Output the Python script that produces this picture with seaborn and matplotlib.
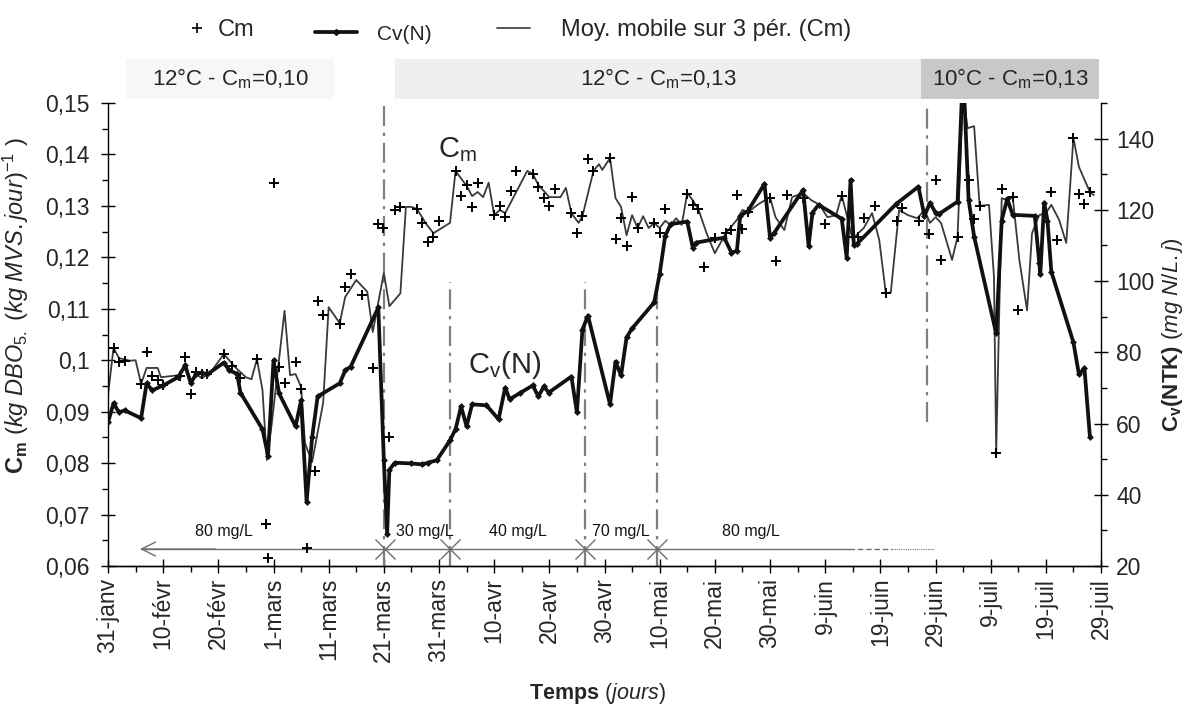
import numpy as np
import pandas as pd
import matplotlib
matplotlib.use("Agg")
import matplotlib.pyplot as plt
import seaborn as sns
from matplotlib.ticker import MultipleLocator, FixedLocator
from matplotlib.lines import Line2D
from matplotlib.patches import Rectangle

sns.set_style("ticks")
plt.rcParams['font.family'] = ['Liberation Sans', 'DejaVu Sans']
plt.rcParams['mathtext.fontset'] = 'custom'
plt.rcParams['mathtext.rm'] = 'Liberation Sans'
plt.rcParams['mathtext.it'] = 'Liberation Sans:italic'
plt.rcParams['mathtext.bf'] = 'Liberation Sans:bold'

# ---------------- data (day 0 = 31 janv) ----------------
x_tick_labels = ["31-janv", "10-févr", "20-févr", "1-mars", "11-mars", "21-mars", "31-mars",
                 "10-avr", "20-avr", "30-avr", "10-mai", "20-mai", "30-mai", "9-juin",
                 "19-juin", "29-juin", "9-juil", "19-juil", "29-juil"]

cm_day = [1, 2, 3, 6, 7, 8, 9, 10, 13, 14, 15, 16, 17, 18, 21, 22.5, 24, 27, 28.6, 29,
          30, 31, 32, 34, 35, 36, 37.5, 38, 39, 42, 43, 44, 46, 48, 48.9, 49.8, 51,
          52, 53, 56, 57, 58, 59, 60, 63, 64, 65, 66, 67, 70, 71, 72, 73, 74, 77, 78,
          79, 80, 81, 84, 85, 86, 87, 88, 91, 92, 93, 94, 95, 96, 99, 100, 101, 105,
          106, 107, 108, 110, 112, 113, 114, 115, 116, 120, 121, 123, 126, 130, 133,
          135, 136, 137, 139, 141, 143, 144, 147, 148.8, 150, 151, 154, 156, 157, 158,
          161, 162, 164, 165, 171, 172, 175, 176, 177, 178]
cm_val = [0.1024, 0.0997, 0.0999, 0.0954, 0.1016, 0.0969, 0.0962, 0.0952, 0.0969, 0.1006,
          0.0934, 0.0977, 0.0973, 0.0973, 0.1012, 0.0989, 0.0965, 0.1002, 0.0682, 0.0616,
          0.1345, 0.0987, 0.0956, 0.0997, 0.0944, 0.0635, 0.0785, 0.1115, 0.1088, 0.1070,
          0.1142, 0.1167, 0.1127, 0.0985, 0.1265, 0.1257, 0.0850,
          0.1292, 0.1298, 0.1294, 0.1267, 0.1230, 0.1240, 0.1271, 0.1368, 0.1319, 0.1341,
          0.1298, 0.1345, 0.1282, 0.1300, 0.1278, 0.1329, 0.1368, 0.1362, 0.1337,
          0.1315, 0.1300, 0.1333, 0.1286, 0.1247, 0.1280, 0.1391, 0.1368, 0.1393, 0.1236,
          0.1276, 0.1222, 0.1317, 0.1257, 0.1267, 0.1247, 0.1294, 0.1323,
          0.1302, 0.1294, 0.1181, 0.1238, 0.1247, 0.1253, 0.1321, 0.1255, 0.1288, 0.1315,
          0.1193, 0.1321, 0.1315, 0.1265, 0.1319,
          0.1240, 0.1240, 0.1276, 0.1300, 0.1130, 0.1271, 0.1296, 0.1271, 0.1245, 0.1351,
          0.1195, 0.1240, 0.1351, 0.1274, 0.1300,
          0.0820, 0.1333, 0.1317, 0.1097, 0.1327, 0.1234, 0.1432, 0.1323, 0.1304, 0.1327]

ma_day = [0, 1, 2, 4, 5, 6, 7, 9, 9.6, 13, 14, 15, 16, 17, 18.5, 21, 23, 25, 26, 27, 28,
          28.8, 29.7, 32, 33, 34, 35, 35.7, 37, 39, 40, 42, 43, 45, 47, 48, 50, 51, 53,
          54, 55, 56, 57.8, 59, 62, 63, 65, 66, 67, 68, 69, 70, 71, 72, 76, 77, 78, 80,
          82, 83, 84, 85.3, 86, 88, 89, 89.6, 91, 92, 93, 94, 95, 96, 97, 98, 99, 100,
          101, 102, 103, 104, 105, 106, 107, 108.5, 110, 112, 114, 115, 116, 118, 120,
          121, 122.6, 124, 126, 127.5, 129, 130.4, 132, 133, 134, 135, 136, 137, 138.5,
          139.8, 141, 141.9, 143.4, 145, 146.7, 148, 149, 150, 151, 153, 154, 155,
          155.8, 157, 158, 159.7, 160.6, 161, 162, 163, 164, 165.2, 166.6, 167.5, 168.8,
          170, 171, 172.4, 173.7, 175, 176, 177, 178, 178.7]
ma_val = [0.0932, 0.1024, 0.1004, 0.0999, 0.1000, 0.0954, 0.0985, 0.0985, 0.0967, 0.0971,
          0.0994, 0.0958, 0.0973, 0.0965, 0.0975, 0.1012, 0.0987, 0.0967, 0.0963, 0.1002,
          0.0942, 0.0806, 0.0878, 0.1096, 0.0971, 0.0973, 0.0948, 0.0839, 0.0802, 0.0917,
          0.1103, 0.1072, 0.1123, 0.1156, 0.1133, 0.1055, 0.1170, 0.1105, 0.1130,
          0.1298, 0.1298, 0.1294, 0.1263, 0.1247, 0.1267, 0.1368, 0.1339, 0.1319, 0.1327,
          0.1317, 0.1345, 0.1282, 0.1292, 0.1286, 0.1368, 0.1362, 0.1341, 0.1317,
          0.1317, 0.1335, 0.1286, 0.1267, 0.1280, 0.1368, 0.1381, 0.1370, 0.1393, 0.1315,
          0.1298, 0.1243, 0.1282, 0.1257, 0.1280, 0.1257, 0.1267, 0.1257,
          0.1271, 0.1263, 0.1276, 0.1263, 0.1325, 0.1311, 0.1294, 0.1247, 0.1208, 0.1247,
          0.1273, 0.1292, 0.1288, 0.1304, 0.1317,
          0.1278, 0.1253, 0.1317, 0.1325, 0.1311, 0.1302, 0.1278, 0.1282, 0.1321, 0.1278,
          0.1234, 0.1247, 0.1257, 0.1286,
          0.1234, 0.1130, 0.1132, 0.1292, 0.1282, 0.1276, 0.1292, 0.1267, 0.1278, 0.1267,
          0.1195, 0.1240, 0.1520,
          0.1451, 0.1455, 0.1300, 0.1302, 0.1162, 0.0820, 0.1315, 0.1311, 0.1317, 0.1195,
          0.1097, 0.1247, 0.1282,
          0.1286, 0.1302, 0.1273, 0.1228, 0.1432, 0.1376, 0.1351, 0.1327, 0.1321]

cv_day = [0, 1, 2, 3, 6, 7, 8, 10, 12.7, 14, 15, 16, 17, 18, 21, 22, 23.4, 24, 28, 29, 30,
          31, 34, 35, 36, 37, 38, 42, 43, 44, 49, 50, 50.6, 51, 52, 55, 57, 58, 59.6, 62,
          63, 64, 65, 66, 68.6, 70.8, 72, 72.8, 74.6, 77, 78, 79, 79.9, 84, 85, 86, 87,
          91, 92, 93, 94, 95, 99, 100, 101, 102, 105, 106, 106.6, 111.7, 113, 114, 114.6,
          116, 119, 120, 120.8, 126, 127, 127.7, 128.8, 133, 133.9, 134.6, 135.2, 135.8,
          142.9, 146.9, 148, 149, 150, 150.7, 154, 155, 156, 157, 161, 162, 163, 164, 168,
          168.8, 169, 169.7, 170.3, 171, 175, 176, 177, 178]
cv_val = [60.3, 65.7, 63.1, 63.7, 61.5, 71.3, 69.3, 70.7, 73.0, 76.3, 71.3, 74.0, 74.3, 73.8,
          77.1, 74.9, 74.0, 68.7, 58.4, 51.0, 77.7,
          68.5, 59.2, 66.5, 38.0, 56.1, 67.6, 71.3, 74.9, 76.0, 92.6, 49.7, 29.0, 47.0, 49.0,
          48.8, 48.5, 49.0, 49.7, 55.3,
          58.4, 64.8, 59.2, 65.4, 65.1, 61.2, 70.1, 66.8, 68.5, 70.7, 67.6, 70.4, 68.7, 73.2,
          63.1, 86.4, 90.3,
          65.4, 77.4, 73.5, 84.2, 86.7, 94.0, 102.0, 112.7, 116.0, 116.7, 109.4, 110.8,
          112.2, 108.0, 108.5, 118.3,
          119.7, 127.3, 112.2, 113.6, 125.6, 109.9, 119.2, 121.4, 117.5, 106.6, 128.4, 110.0,
          110.5,
          121.7, 126.5, 118.3, 122.0, 119.2, 118.9, 122.3, 160.0, 122.8, 112.5, 85.3, 117.0,
          123.1, 118.6, 118.3,
          105.2, 102.1, 122.0, 117.0, 102.6, 82.8, 73.8, 75.5, 56.1]

# annotation data
vline_days = [50, 62, 86.5, 99.5, 148.5]
period_cross_days = [50.3, 62, 86.5, 99.5]
period_labels = ["80 mg/L", "30 mg/L", "40 mg/L", "70 mg/L", "80 mg/L"]
period_label_days = [21, 57.5, 74.3, 93, 116.5]
band_labels = ["12°C - C$_\\mathrm{m}$=0,10", "12°C - C$_\\mathrm{m}$=0,13",
               "10°C - C$_\\mathrm{m}$=0,13"]
band_starts = [3.3, 52, 147.4]
band_ends = [40.9, 147.4, 179.6]
band_colors = ["#f7f7f7", "#efefef", "#c8c8c8"]

# ---------------- figure ----------------
W, H = 1186, 705
fig = plt.figure(figsize=(W / 100, H / 100), dpi=100)
ax = fig.add_axes([108 / W, 1 - 566 / H, (1101 - 108) / W, (566 - 103) / H])
ax2 = ax.twinx()

gray_dd = (0, (9, 3, 1.5, 3))
for i, d in enumerate(vline_days):
    lo, hi = 0.0, 1.0
    if i in (1, 2, 3):
        hi = 0.613
    if i == 4:
        lo = 0.31
    ax.axvline(d, ymin=lo, ymax=hi, color="#7f7f7f", ls=gray_dd, lw=1.6, zorder=1)

sns.scatterplot(x=cm_day, y=cm_val, ax=ax, marker="+", color="black", s=60,
                linewidth=1.4, zorder=3, legend=False)
sns.lineplot(x=ma_day, y=ma_val, ax=ax, color="#3a3a3a", lw=1.3, sort=False,
             estimator=None, zorder=2, legend=False)
sns.lineplot(x=cv_day, y=cv_val, ax=ax2, color="#111111", lw=2.7, marker="D",
             markersize=3.5, markeredgewidth=0, sort=False, estimator=None, legend=False)

# concentration periods
ya = 0.0633
arrow_c = "#6e6e6e"
ax.plot([6, 134.4], [ya, ya], color=arrow_c, lw=1.0, zorder=2)
ax.plot([134.4, 142.2], [ya, ya], color=arrow_c, lw=1.0, ls=(0, (4, 2)), zorder=2)
ax.plot([142.2, 149.8], [ya, ya], color=arrow_c, lw=0.8, ls=(0, (1, 1)), zorder=2)
ax.annotate("", xy=(5.3, ya), xytext=(20, ya),
            arrowprops=dict(arrowstyle="->,head_length=1.0,head_width=0.5",
                            color=arrow_c, lw=1.0))
ax.plot(period_cross_days, [ya] * len(period_cross_days), ls="none", marker="x",
        markersize=14, mew=1.0, color=arrow_c, zorder=2)
for lab, d in zip(period_labels, period_label_days):
    ax.text(d, ya + 0.0019, lab, ha="center", va="bottom", fontsize=11.5, color="#111111")

# text labels in plot
ax.text(63.4, 0.1409, "C$_\\mathrm{m}$", fontsize=21, ha="center", va="center")
ax2.text(71.9, 76.3, "C$_\\mathrm{v}$(N)", fontsize=21, ha="center", va="center")

# bands above plot
for lab, s, e, c in zip(band_labels, band_starts, band_ends, band_colors):
    r = Rectangle((s, 1.0086), e - s, 0.0864, transform=ax.get_xaxis_transform(),
                  facecolor=c, edgecolor="none", clip_on=False, zorder=0)
    ax.add_patch(r)
    ax.text((s + e) / 2, 1.0086 + 0.0432, lab, transform=ax.get_xaxis_transform(),
            ha="center", va="center", fontsize=16)

# axes limits & ticks
ax.set_xlim(0, 180)
ax.set_ylim(0.06, 0.15)
ax2.set_ylim(20, 150)
ax.set_xticks(np.arange(0, 181, 10))
ax.set_xticklabels(x_tick_labels, rotation=90, fontsize=16.5)
ax.xaxis.set_minor_locator(MultipleLocator(5))
yt = np.round(np.arange(0.06, 0.1501, 0.01), 2)
ax.set_yticks(yt)
ax.set_yticklabels([("%g" % v).replace(".", ",") for v in yt], fontsize=16.5)
ax.yaxis.set_minor_locator(MultipleLocator(0.005))
ax2.yaxis.set_major_locator(FixedLocator(np.arange(20, 141, 20)))
ax2.yaxis.set_minor_locator(FixedLocator(np.arange(30, 151, 20)))
ax2.tick_params(axis="y", labelsize=16.5)

for a in (ax, ax2):
    a.spines["top"].set_visible(False)
    for s in ("left", "right", "bottom"):
        a.spines[s].set_color("black")
        a.spines[s].set_linewidth(1.0)
    a.tick_params(which="major", direction="inout", length=10, width=1, color="black")
    a.tick_params(which="minor", direction="out", length=4, width=1, color="black")
ax.tick_params(axis="y", which="major", pad=8)
ax2.tick_params(axis="y", which="major", pad=6)
ax.spines["right"].set_visible(False)
ax2.spines["left"].set_visible(False)
ax.grid(False)
ax2.grid(False)

ax.set_ylabel(r"$\mathbf{C_m}$ $\mathit{(kg\ DBO_{5.}\ (kg\ MVS.jour)^{-1}\ )}$", fontsize=17)
ax.yaxis.set_label_coords(-0.078, 0.562)
ax2.set_ylabel(r"$\mathbf{C_v(NTK)}$ $\mathit{(mg\ N/L.j)}$", fontsize=16, rotation=90)
ax2.yaxis.set_label_coords(1.0594, 0.5)
ax.set_xlabel(r"$\mathbf{Temps}$ $\mathit{(jours)}$", fontsize=15.5)
ax.xaxis.set_label_coords(0.4925, -0.248)

# legend (three entries placed like the original)
ly = 1 - 30 / H
fig.legend([Line2D([], [], ls="none", marker="+", color="black", markersize=7, mew=1.2)],
           ["Cm"], loc="center left", bbox_to_anchor=(187 / W, ly), frameon=False,
           fontsize=17, handlelength=0.85, handletextpad=0.45, borderpad=0,
           borderaxespad=0)
fig.legend([Line2D([], [], color="#111111", lw=2.7, marker="D", markersize=3)],
           ["Cv(N)"], loc="center left", bbox_to_anchor=(315 / W, 1 - 34 / H),
           frameon=False, fontsize=15, handlelength=2.0, handletextpad=1.0,
           borderpad=0, borderaxespad=0)
fig.legend([Line2D([], [], color="#3a3a3a", lw=1.2)],
           ["Moy. mobile sur 3 pér. (Cm)"], loc="center left",
           bbox_to_anchor=(497 / W, ly), frameon=False, fontsize=17, handlelength=1.4,
           handletextpad=1.3, borderpad=0, borderaxespad=0)

fig.savefig("out.png", dpi=100)
